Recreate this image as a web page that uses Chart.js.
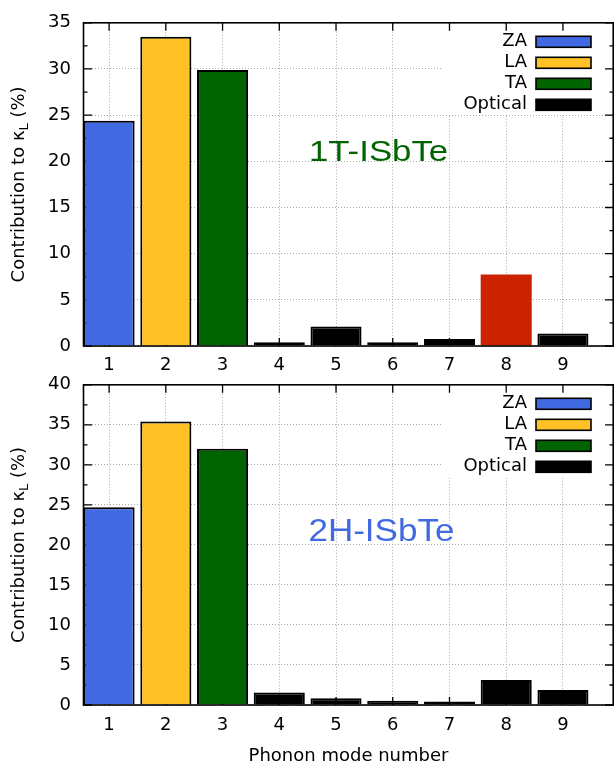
<!DOCTYPE html>
<html>
<head>
<meta charset="utf-8">
<script src="https://cdn.jsdelivr.net/npm/chart.js@4.4.0/dist/chart.umd.min.js"></script>
<style>
	html, body { margin: 0; padding: 0; background: #fff; }
	#wrap { position: relative; width: 614px; height: 765px; overflow: hidden; }
	#box-1T { position: absolute; left: 0; top: 0; }
	#box-2H { position: absolute; left: 0; top: 362px; }
</style>
</head>
<body>
<div id="wrap">
	<div id="box-1T"><canvas id="chart-1T" width="614" height="379"></canvas></div>
	<div id="box-2H"><canvas id="chart-2H" width="614" height="403"></canvas></div>
</div>
<script>
// phonon modes and their contribution to kappa_L (%)
var modes = [1, 2, 3, 4, 5, 6, 7, 8, 9];
var branches = ["ZA", "LA", "TA", "Optical", "Optical", "Optical", "Optical", "Optical", "Optical"];
var contrib1T = [24.4, 33.5, 29.9, 0.4, 2.1, 0.4, 0.75, 7.75, 1.35];
var contrib2H = [24.7, 35.4, 32.0, 1.55, 0.85, 0.53, 0.45, 3.13, 1.87];

var yMax1T = 35;
var yMax2H = 40;
var yStep = 5;

var legendNames = ["ZA", "LA", "TA", "Optical"];
var legendColors = ["#4169e1", "#ffc125", "#006400", "#000000"];
var highlightMode1T = 8;
var highlightColor = "#cc2200";

Chart.defaults.font.family = "DejaVu Sans";
Chart.defaults.font.size = 18;
Chart.defaults.color = "#000";

function barColors(hl) {
	var out = [];
	for (var i = 0; i < modes.length; i++) {
		if (modes[i] == hl) out.push(highlightColor);
		else out.push(legendColors[legendNames.indexOf(branches[i])]);
	}
	return out;
}

function barBorders(hl) {
	var out = [];
	for (var i = 0; i < modes.length; i++) {
		out.push(modes[i] == hl ? 0 : 2);
	}
	return out;
}

// gnuplot-like frame, inward ticks, key box, panel label and y title
function decorPlugin(cfg) {
	return {
		id: "decor",
		beforeDatasetsDraw: function(chart) {
			var ctx = chart.ctx;
			var a = chart.chartArea;
			var xs = chart.scales.x, ys = chart.scales.y;
			ctx.save();
			// key background hides the grid behind it
			ctx.fillStyle = "#fff";
			ctx.fillRect(442, a.top, a.right - 442, 92);

			ctx.strokeStyle = "#000";
			ctx.lineWidth = 1.3;
			ctx.beginPath();
			for (var i = 0; i < modes.length; i++) {
				var px = xs.getPixelForValue(modes[i]);
				ctx.moveTo(px, a.bottom); ctx.lineTo(px, a.bottom - 8);
				ctx.moveTo(px, a.top); ctx.lineTo(px, a.top + 8);
			}
			for (var v = 0; v <= cfg.yMax; v += yStep / 2) {
				var py = ys.getPixelForValue(v);
				var len = (v % yStep == 0) ? 9 : 4.5;
				ctx.moveTo(a.left, py); ctx.lineTo(a.left + len, py);
				ctx.moveTo(a.right, py); ctx.lineTo(a.right - len, py);
			}
			ctx.stroke();

			// panel label
			ctx.fillStyle = cfg.labelColor;
			ctx.font = cfg.labelSize + "px 'Liberation Sans'";
			ctx.textAlign = "center";
			ctx.textBaseline = "alphabetic";
			ctx.translate(xs.getPixelForValue(cfg.labelX), ys.getPixelForValue(cfg.labelY));
			ctx.scale(cfg.labelStretch, 1);
			ctx.fillText(cfg.label, 0, 0);
			ctx.restore();
		},
		afterDatasetsDraw: function(chart) {
			var ctx = chart.ctx;
			var a = chart.chartArea;
			ctx.save();
			ctx.strokeStyle = "#000";
			ctx.lineWidth = 1.6;
			ctx.strokeRect(a.left + 0.5, a.top, a.right - a.left - 1.3, a.bottom - a.top);

			// key
			ctx.font = "18px 'DejaVu Sans'";
			ctx.textAlign = "right";
			ctx.textBaseline = "middle";
			for (var i = 0; i < legendNames.length; i++) {
				var cy = a.top + 19 + i * 21;
				var bx = a.right - 78;
				ctx.fillStyle = "#000";
				ctx.fillText(legendNames[i], bx - 9, cy);
				ctx.fillStyle = legendColors[i];
				ctx.fillRect(bx, cy - 5.5, 55, 11);
				ctx.lineWidth = 1.6;
				ctx.strokeRect(bx, cy - 5.5, 55, 11);
			}

			// y axis title with subscript L
			var main = "Contribution to \u03ba";
			var tail = " (%)";
			ctx.font = "18px 'DejaVu Sans'";
			var w1 = ctx.measureText(main).width;
			var w3 = ctx.measureText(tail).width;
			ctx.font = "13px 'DejaVu Sans'";
			var w2 = ctx.measureText("L").width;
			var total = w1 + w2 + w3;
			ctx.translate(24, (a.top + a.bottom) / 2);
			ctx.rotate(-Math.PI / 2);
			ctx.textAlign = "left";
			ctx.textBaseline = "alphabetic";
			ctx.fillStyle = "#000";
			ctx.font = "18px 'DejaVu Sans'";
			ctx.fillText(main, -total / 2, 0);
			ctx.font = "13px 'DejaVu Sans'";
			ctx.fillText("L", -total / 2 + w1, 4);
			ctx.font = "18px 'DejaVu Sans'";
			ctx.fillText(tail, -total / 2 + w1 + w2, 0);
			ctx.restore();
		}
	};
}

function makeChart(id, values, cfg) {
	var ctx = document.getElementById(id);
	var data = {
		datasets: [
			{
				data: modes.map(function(m, i) { return { x: m, y: values[i] }; }),
				backgroundColor: barColors(cfg.highlight),
				borderColor: "#000",
				borderWidth: barBorders(cfg.highlight),
				barPercentage: 0.9,
				categoryPercentage: 1.0
			}
		]
	};
	var options = {
		responsive: false,
		animation: false,
		layout: { padding: { top: cfg.padTop, left: 0, right: 0, bottom: 0 } },
		plugins: {
			legend: { display: false },
			tooltip: { enabled: false }
		},
		scales: {
			x: {
				type: "linear",
				min: 0.54,
				max: 9.9,
				offset: false,
				afterFit: function(s) { s.height = cfg.xHeight; },
				ticks: { stepSize: 1, includeBounds: false, padding: cfg.xPad },
				grid: { color: "#aaa", lineWidth: 1, drawTicks: false, offset: false },
				border: { display: false, dash: [1, 2] },
				title: {
					display: cfg.showTitle,
					text: "Phonon mode number",
					font: { size: 18, lineHeight: 1.0 },
					padding: { top: 0, bottom: 0 }
				}
			},
			y: {
				min: 0,
				max: cfg.yMax,
				afterFit: function(s) { s.width = 83; },
				ticks: { stepSize: yStep, padding: 12 },
				grid: { color: "#aaa", lineWidth: 1, drawTicks: false },
				border: { display: false, dash: [1, 2] }
			}
		}
	};
	return new Chart(ctx, {
		type: "bar",
		data: data,
		options: options,
		plugins: [decorPlugin(cfg)]
	});
}

var chart1 = makeChart("chart-1T", contrib1T, {
	yMax: yMax1T, highlight: highlightMode1T, padTop: 18, xHeight: 33, xPad: 9, showTitle: false,
	label: "1T-ISbTe", labelColor: "#006400", labelSize: 30, labelStretch: 1.16, labelX: 5.75, labelY: 20
});

var chart2 = makeChart("chart-2H", contrib2H, {
	yMax: yMax2H, highlight: 0, padTop: 15, xHeight: 60, xPad: 10, showTitle: true,
	label: "2H-ISbTe", labelColor: "#4169e1", labelSize: 31, labelStretch: 1.13, labelX: 5.8, labelY: 20.5
});
</script>
</body>
</html>
